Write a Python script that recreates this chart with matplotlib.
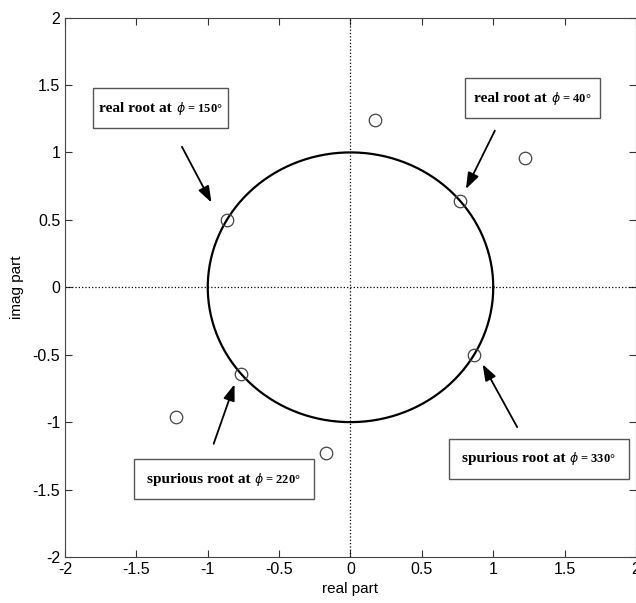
import numpy as np
import matplotlib.pyplot as plt
from matplotlib.patches import Rectangle
from matplotlib.offsetbox import TextArea, HPacker, AnnotationBbox

# roots lying on the unit circle (angles in degrees)
real_phi = [40, 150]
spur_phi = [220, 330]

# remaining roots off the unit circle
off_re = [0.17, 1.22, -1.22, -0.17]
off_im = [1.24, 0.96, -0.96, -1.23]

# annotation labels: text, phi, box (x0, y0, x1, y1), arrow tail, arrow tip
labels = [
    ('real root at', 150, (-1.801, 1.179, -0.858, 1.475), (-1.19, 1.06), (-0.965, 0.61)),
    ('real root at', 40, (0.799, 1.253, 1.750, 1.549), (1.02, 1.18), (0.80, 0.71)),
    ('spurious root at', 220, (-1.516, -1.572, -0.257, -1.277), (-0.965, -1.18), (-0.806, -0.70)),
    ('spurious root at', 330, (0.689, -1.423, 1.948, -1.122), (1.177, -1.055), (0.916, -0.553)),
]

plt.rcParams['font.family'] = ['Liberation Sans', 'DejaVu Sans']

fig = plt.figure(figsize=(6.36, 6.03), dpi=100)
ax = fig.add_axes([0.1022, 0.0763, 0.8978, 0.8946])

t = np.linspace(0, 2*np.pi, 400)
ax.plot(np.cos(t), np.sin(t), color='black', lw=1.6)
ax.axhline(0, color='black', ls=':', lw=0.9)
ax.axvline(0, color='black', ls=':', lw=0.9)

phis = np.radians(np.array(real_phi + spur_phi))
ax.plot(np.cos(phis), np.sin(phis), 'o', mfc='none', mec='#444444', ms=9, mew=0.9)
ax.plot(off_re, off_im, 'o', mfc='none', mec='#444444', ms=9, mew=0.9)

for txt, phi, (x0, y0, x1, y1), tail, tip in labels:
    ax.add_patch(Rectangle((x0, y0), x1 - x0, y1 - y0, fc='white', ec='#555555', lw=1.0, zorder=4))
    main = TextArea(txt + ' ', textprops=dict(family='Liberation Serif', weight='bold', fontsize=11))
    ang = TextArea(r'$\phi$' + ' = %d°' % phi,
                   textprops=dict(family='Liberation Serif', weight='bold', fontsize=9))
    pack = HPacker(children=[main, ang], align='baseline', pad=0, sep=0)
    ab = AnnotationBbox(pack, ((x0 + x1) / 2, (y0 + y1) / 2), frameon=False,
                        box_alignment=(0.5, 0.5), zorder=5)
    ax.add_artist(ab)
    ax.annotate('', xy=tip, xytext=tail,
                arrowprops=dict(arrowstyle='-|>,head_length=0.7,head_width=0.25',
                                color='black', lw=1.3, mutation_scale=14))

ax.set_xlim(-2, 2)
ax.set_ylim(-2, 2)
ax.set_xticks(np.arange(-2, 2.01, 0.5))
ax.set_yticks(np.arange(-2, 2.01, 0.5))
ax.set_xticklabels(['-2', '-1.5', '-1', '-0.5', '0', '0.5', '1', '1.5', '2'])
ax.set_yticklabels(['-2', '-1.5', '-1', '-0.5', '0', '0.5', '1', '1.5', '2'])
ax.tick_params(direction='in', top=True, right=True, labelsize=11.5, length=5, color='#333333')
for sp in ax.spines.values():
    sp.set_color('#444444')
ax.set_xlabel('real part', fontsize=11, labelpad=4)
ax.set_ylabel('imag part', fontsize=11, labelpad=6)

fig.savefig('out.png', dpi=100)
